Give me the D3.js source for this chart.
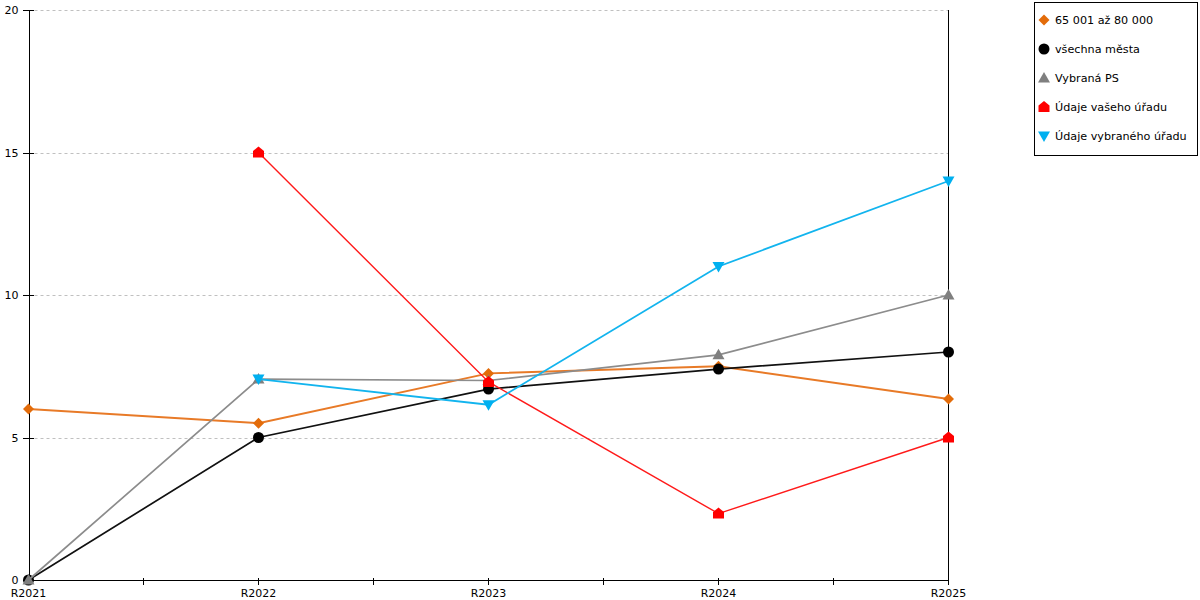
<!DOCTYPE html>
<html>
<head>
<meta charset="utf-8">
<script src="https://cdn.jsdelivr.net/npm/d3@7"></script>
<style>
  body { margin: 0; background: #fff; }
  text { font-family: "DejaVu Sans", Verdana, sans-serif; }
</style>
</head>
<body>
<div id="chart"></div>
<script>
// categories and values
var years = ["R2021", "R2022", "R2023", "R2024", "R2025"];
var yTicks = [0, 5, 10, 15, 20];

var seriesNames = ["65 001 až 80 000", "všechna města", "Vybraná PS", "Údaje vašeho úřadu", "Údaje vybraného úřadu"];
var orangeValues = [6.0, 5.5, 7.25, 7.5, 6.35];
var blackValues = [0, 5.0, 6.7, 7.4, 8.0];
var grayValues = [0, 7.05, 7.0, 7.9, 10.0];
var redValues = [null, 15.0, 6.95, 2.33, 5.0];
var blueValues = [null, 7.05, 6.15, 11.0, 14.0];

var svgWidth = 1200;
var svgHeight = 600;

var margin = { top: 10, right: 251, bottom: 20, left: 28.5 };
var width = svgWidth - margin.left - margin.right - 0.5;
var height = svgHeight - margin.top - margin.bottom;

var svg = d3.select("#chart")
  .append("svg")
  .attr("width", svgWidth)
  .attr("height", svgHeight);

var chartGroup = svg.append("g")
  .attr("transform", `translate(${margin.left}, ${margin.top})`);

var xScale = d3.scalePoint()
  .domain(years)
  .range([0, width]);

var yScale = d3.scaleLinear()
  .domain([0, 20])
  .range([height, 0]);

// marker shapes, centered on 0,0
var shapes = {
  diamond: "M0,-5.5L5.5,0L0,5.5L-5.5,0Z",
  circle: d3.symbol().type(d3.symbolCircle).size(95)(),
  triangle: "M0,-6L6,4.5L-6,4.5Z",
  house: "M0,-6L5.5,-1.5L5.5,5L-5.5,5L-5.5,-1.5Z",
  triangleDown: "M-6,-4.5L6,-4.5L0,6Z"
};

var series = [
  { name: seriesNames[0], values: orangeValues, line: "#e87a27", fill: "#e36c0a", shape: "diamond", lw: 2 },
  { name: seriesNames[1], values: blackValues, line: "#111", fill: "#000", shape: "circle", lw: 1.7 },
  { name: seriesNames[2], values: grayValues, line: "#8c8c8c", fill: "#7f7f7f", shape: "triangle", lw: 1.7 },
  { name: seriesNames[3], values: redValues, line: "#ff1a1a", fill: "#ff0000", shape: "house", lw: 1.4 },
  { name: seriesNames[4], values: blueValues, line: "#12b4ee", fill: "#00b0f0", shape: "triangleDown", lw: 1.8 }
];

// dashed gridlines
chartGroup.selectAll(".grid")
  .data(yTicks.filter(d => d > 0))
  .enter()
  .append("line")
  .attr("x1", 0)
  .attr("x2", width)
  .attr("y1", d => Math.round(yScale(d)) + 0.5)
  .attr("y2", d => Math.round(yScale(d)) + 0.5)
  .attr("stroke", "#c0c0c0")
  .attr("stroke-dasharray", "3,3");

// left axis
var leftAxis = d3.axisLeft(yScale)
  .tickValues(yTicks)
  .tickSizeInner(6)
  .tickSizeOuter(0)
  .tickPadding(5);

var yAxis = chartGroup.append("g").call(leftAxis);
yAxis.select(".domain").attr("shape-rendering", "crispEdges");
yAxis.selectAll(".tick line").attr("x2", 5).attr("x1", -6).attr("shape-rendering", "crispEdges");
yAxis.selectAll("text").attr("font-size", "11px").attr("fill", "#000").attr("x", -10);

// right plain line
chartGroup.append("line")
  .attr("x1", width).attr("x2", width)
  .attr("y1", 0).attr("y2", height)
  .attr("stroke", "#000")
  .attr("shape-rendering", "crispEdges");

// bottom axis with ticks on categories and midpoints
var xAxis = chartGroup.append("g").attr("transform", `translate(0, ${height})`);
xAxis.append("line")
  .attr("x1", 0).attr("x2", width)
  .attr("stroke", "#000")
  .attr("shape-rendering", "crispEdges");

var step = xScale.step();
var tickPos = [];
years.forEach(function(y, i) {
  tickPos.push(xScale(y));
  if (i < years.length - 1) tickPos.push(xScale(y) + step / 2);
});
xAxis.selectAll(".xt")
  .data(tickPos)
  .enter()
  .append("line")
  .attr("x1", d => d).attr("x2", d => d)
  .attr("y1", -2).attr("y2", 5)
  .attr("stroke", "#000")
  .attr("shape-rendering", "crispEdges");

xAxis.selectAll(".xl")
  .data(years)
  .enter()
  .append("text")
  .attr("x", d => xScale(d))
  .attr("y", 17)
  .attr("text-anchor", "middle")
  .attr("font-size", "11px")
  .text(d => d);

// lines and markers
var line = d3.line()
  .defined(d => d.v !== null)
  .x(d => xScale(d.year))
  .y(d => yScale(d.v));

series.forEach(function(s) {
  var pts = years.map((y, i) => ({ year: y, v: s.values[i] }));
  chartGroup.append("path")
    .datum(pts)
    .attr("d", line)
    .attr("fill", "none")
    .attr("stroke", s.line)
    .attr("stroke-width", s.lw);

  chartGroup.selectAll(null)
    .data(pts.filter(d => d.v !== null))
    .enter()
    .append("path")
    .attr("d", shapes[s.shape])
    .attr("transform", d => `translate(${xScale(d.year)}, ${yScale(d.v)})`)
    .attr("fill", s.fill);
});

// legend
var legend = svg.append("g").attr("transform", "translate(1034, 2)");
legend.append("rect")
  .attr("x", 0.5).attr("y", 0.5)
  .attr("width", 163).attr("height", 153)
  .attr("fill", "#fff")
  .attr("stroke", "#000");

var items = legend.selectAll(".item")
  .data(series)
  .enter()
  .append("g")
  .attr("transform", (d, i) => `translate(10, ${18 + i * 29})`);

items.append("path")
  .attr("d", d => shapes[d.shape])
  .attr("fill", d => d.fill);

items.append("text")
  .attr("x", 11)
  .attr("y", 4)
  .attr("font-size", "11.2px")
  .text(d => d.name);
</script>
</body>
</html>
